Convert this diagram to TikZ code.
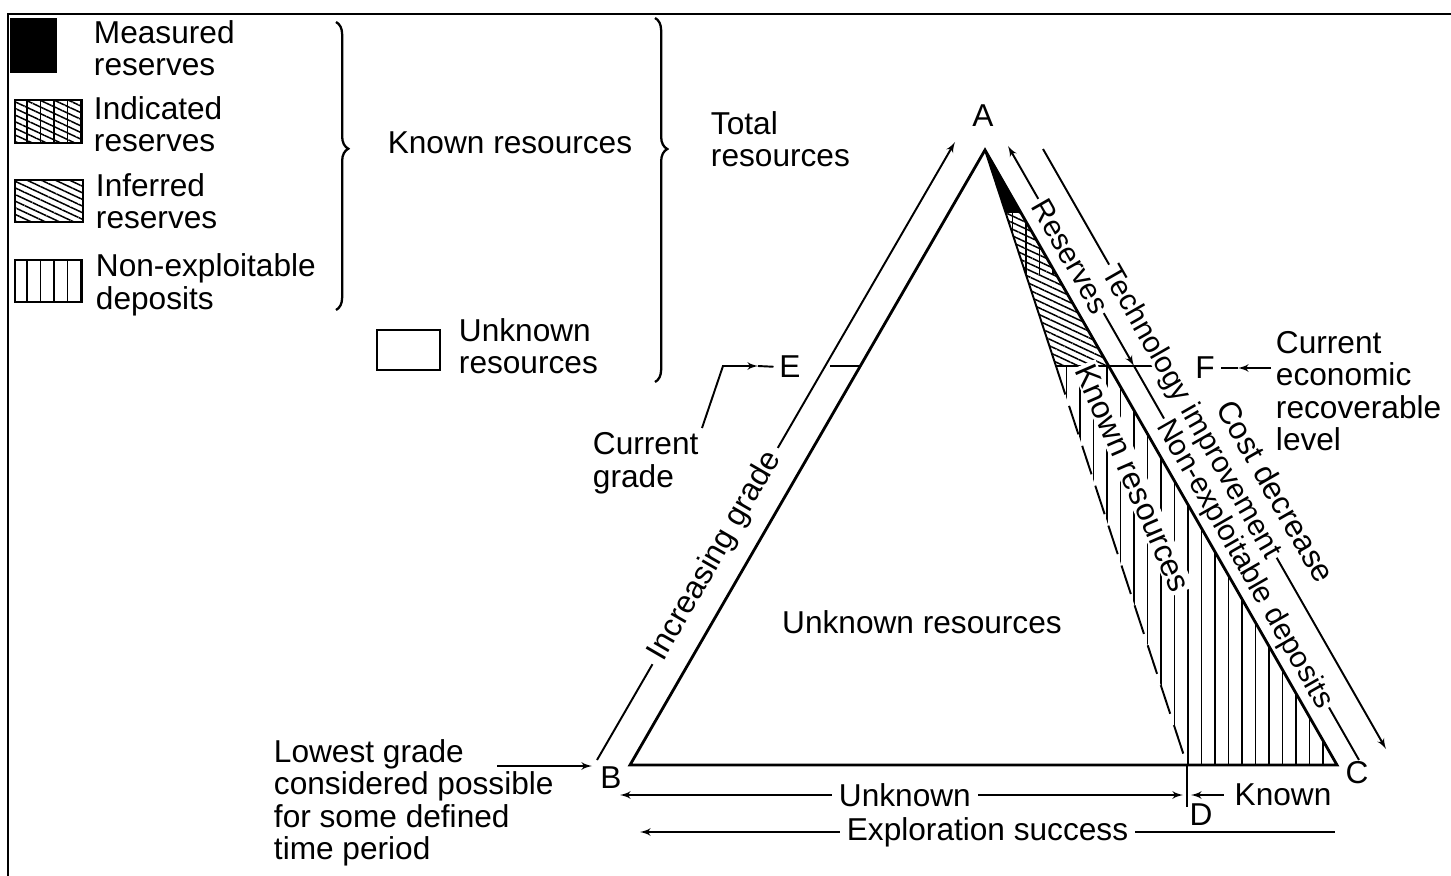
\documentclass[tikz,border=0pt]{standalone}
\usepackage{fontspec}
\setmainfont{Liberation Sans}
\usepackage{tikz}
\usetikzlibrary{arrows,positioning,calc,patterns.meta,decorations.pathreplacing}

\begin{document}
\begin{tikzpicture}[x=0.2mm, y=-0.2mm, >=latex', line width=1.1pt,
  every node/.style={font=\fontsize{18}{18.5}\selectfont, inner sep=0pt},
  lbl/.style={align=left, anchor=west},
  gap/.style={fill=white, inner sep=4pt},
  slab/.style={fill=white, sloped, inner sep=1.5pt, text height=12pt, text depth=0pt,
    font=\fontsize{#1}{18}\selectfont},
  side/.style={line width=1.6pt},
  vlines/.style={pattern={Lines[angle=90,distance=2.7mm,line width=0.3mm]}},
  hatch/.style={pattern={Lines[angle=-25,distance=1.2mm,line width=0.3mm]}},
  bracket/.style={line width=1.3pt, decorate, decoration={brace, amplitude=7pt, aspect=#1}}]
  \useasboundingbox (0,0) rectangle (1451,876);
  \draw[side] (8,876) -- (8,14) -- (1451,14);

  \fill (10,18) rectangle (57,73);
  \fill[vlines] (15,100) rectangle (82,143);
  \draw[hatch] (15,100) rectangle (82,143);
  \draw[hatch] (15,180) rectangle (83,222);
  \draw[vlines] (15,260) rectangle (82,302);
  \draw (377,330) rectangle (440,370);
  \node [lbl] (measured) at (93,48) {Measured\\reserves};
  \node [lbl] (indicated) at (93,124) {Indicated\\reserves};
  \node [lbl] (inferred) at (95,201) {Inferred\\reserves};
  \node [lbl] (nonexp) at (95,285) {Non-exploitable\\deposits};
  \node [lbl] (unknownkey) at (458,346) {Unknown\\resources};
  \draw[bracket=0.44] (336,22) -- (336,310);
  \node [] (knownkey) at (510,143) {Known resources};
  \draw[bracket=0.36] (655,18) -- (655,382);
  \node [lbl] (total) at (710,139) {Total\\resources};

  \coordinate (A) at (985,150);
  \coordinate (B) at (630,765);
  \coordinate (C) at (1337,765);
  \coordinate (D) at (1187,765);
  \coordinate (m1) at ($(A)!0.1024!(D)$);
  \coordinate (m2) at ($(A)!0.1024!(C)$);
  \coordinate (i1) at ($(A)!0.2033!(D)$);
  \coordinate (i2) at ($(A)!0.2033!(C)$);
  \coordinate (Fk) at ($(A)!0.3512!(D)$);
  \coordinate (Fs) at ($(A)!0.3512!(C)$);
  \coordinate (Es) at ($(A)!0.3512!(B)$);

  \fill (A) -- (m2) -- (m1) -- cycle;
  \fill[vlines] (m1) -- (m2) -- (i2) -- (i1) -- cycle;
  \fill[hatch] (m1) -- (m2) -- (i2) -- (i1) -- cycle;
  \fill[hatch] (i1) -- (i2) -- (Fs) -- (Fk) -- cycle;
  \fill[vlines] (Fk) -- (Fs) -- (C) -- (D) -- cycle;
  \draw[side] (A) -- (B) -- (C) -- cycle;
  \draw (A) -- (Fk) -- (Fs) -- ++(48,0);
  \draw[dash pattern=on 6mm off 2.4mm] (Fk) -- (D);
  \draw (D) -- ++(0,42);
  \draw (Es) -- ++(-30,0);

  \node [] (la) at (983,116) {A};
  \node [] (lb) at (611,778) {B};
  \node [] (lc) at (1357,773) {C};
  \node [] (ld) at (1201,815) {D};
  \node [] (le) at (790,367) {E};
  \node [] (lf) at (1205,368) {F};
  \node [gap, inner sep=1pt, rotate=-66.5] (knownres) at (1133,478) {Known resources};
  \node [] (unknownres) at (922,622) {Unknown resources};

  \coordinate (g1) at (597,760);
  \coordinate (g2) at (955,142);
  \draw[->] (g1) -- node[gap, sloped, pos=0.33] {Increasing grade} (g2);

  \coordinate (r1) at (1008,146);
  \coordinate (r2) at (1134,366);
  \coordinate (r3) at (1359,760);
  \draw[<->] (r1) -- node[slab=17] {Reserves} (r2);
  \draw (r2) -- node[slab=17] {Non-exploitable deposits} (r3);

  \coordinate (t1) at (1043,149);
  \coordinate (t2) at (1386,749);
  \draw[->] (t1) -- node[slab=17, pos=0.437] {Technology improvement} (t2);
  \node [rotate=-60.2] (cost) at (1276,491) {Cost decrease};

  \node [lbl] (curgrade) at (592,463) {Current\\grade};
  \coordinate (e1) at (702,428);
  \coordinate (e2) at (723,366);
  \coordinate (e3) at (758,366);
  \draw[->] (e1) -- (e2) -- (e3);
  \draw[shorten >=1mm] (e3) -- (le.west);

  \node [lbl] (curlevel) at (1275,391) {Current\\economic\\recoverable\\level};
  \coordinate (f1) at (1271,368);
  \coordinate (f2) at (1238,368);
  \draw[->] (f1) -- (f2);
  \draw[shorten >=1mm] (f2) -- (lf.east);

  \node [lbl] (lowest) at (273,803) {Lowest grade\\considered possible\\for some defined\\time period};
  \coordinate (l1) at (497,766);
  \coordinate (l2) at (592,766);
  \draw[->] (l1) -- (l2);

  \coordinate (u1) at (620,795);
  \coordinate (u2) at (1183,795);
  \draw[<->] (u1) -- node[gap, pos=0.506] {Unknown} (u2);
  \node [] (known) at (1283,795) {Known};
  \coordinate (u3) at (1191,795);
  \draw[->, shorten <=2mm] (known.west) -- (u3);

  \coordinate (x1) at (640,832);
  \coordinate (x2) at (1335,832);
  \draw[<-] (x1) -- node[gap] {Exploration success} (x2);
\end{tikzpicture}
\end{document}
